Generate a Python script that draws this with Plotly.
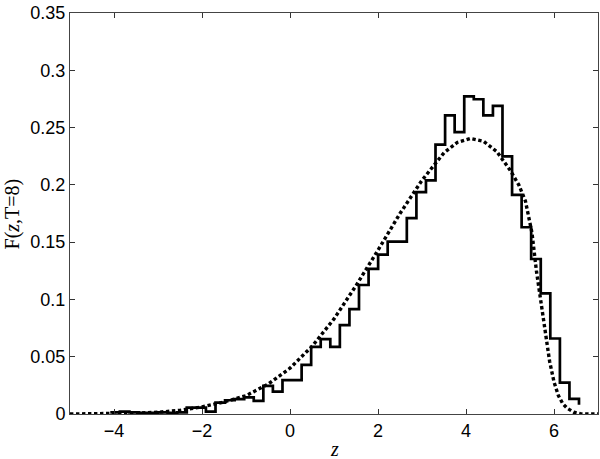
import plotly.graph_objects as go

# histogram (stairs): left edge of each bin and its height
bin_edges = [-4.084, -3.867, -3.649, -3.432, -3.215, -2.997, -2.780, -2.563,
             -2.346, -2.128, -1.911, -1.693, -1.476, -1.258, -1.041, -0.824,
             -0.606, -0.389, -0.171, 0.046, 0.264, 0.481, 0.698, 0.916,
             1.133, 1.351, 1.568, 1.786, 2.003, 2.220, 2.438, 2.655,
             2.873, 3.090, 3.307, 3.525, 3.742, 3.960, 4.177, 4.394,
             4.612, 4.829, 5.047, 5.264, 5.481, 5.699, 5.916, 6.134,
             6.351, 6.568]
bin_height = [0.0015, 0.002, 0.0015, 0.001, 0.001, 0.0015, 0.001, 0.0015,
              0.0055, 0.0055, 0.002, 0.010, 0.012, 0.013, 0.0145, 0.0115,
              0.0245, 0.0195, 0.0295, 0.0295, 0.0429, 0.0586, 0.0653, 0.0586,
              0.0776, 0.0916, 0.1126, 0.1266, 0.1391, 0.1505, 0.1505, 0.1709,
              0.1936, 0.2039, 0.2351, 0.2607, 0.2461, 0.2773, 0.2747, 0.2607,
              0.2689, 0.2249, 0.1913, 0.1630, 0.1353, 0.1053, 0.0659, 0.0274,
              0.0132, 0.008]

# theoretical curve (dotted)
curve_z = [-5, -4.5, -4, -3.5, -3, -2.5, -2, -1.5, -1, -0.5, 0, 0.5, 1, 1.5,
           2, 2.5, 3, 3.5, 3.8, 4.1, 4.4, 4.7, 5.0, 5.2, 5.35, 5.5, 5.6, 5.7,
           5.8, 5.9, 6.0, 6.1, 6.2, 6.3, 6.45, 6.6, 6.8, 7]
curve_f = [0, 0.0001, 0.0003, 0.0008, 0.0015, 0.0032, 0.0062, 0.0105, 0.016,
           0.026, 0.040, 0.059, 0.083, 0.112, 0.143, 0.175, 0.204, 0.228,
           0.237, 0.2405, 0.238, 0.229, 0.213, 0.200, 0.186, 0.158, 0.125,
           0.097, 0.073, 0.046, 0.028, 0.016, 0.009, 0.005, 0.0015, 0.0002,
           0, 0]

x_ticks = [-4, -2, 0, 2, 4, 6]
x_tick_text = ["\u22124", "\u22122", "0", "2", "4", "6"]
y_ticks = [0, 0.05, 0.1, 0.15, 0.2, 0.25, 0.3, 0.35]
y_tick_text = ["0", "0.05", "0.1", "0.15", "0.2", "0.25", "0.3", "0.35"]

fig = go.Figure()
fig.add_trace(go.Scatter(
    x=curve_z, y=curve_f, mode="lines",
    line=dict(color="black", width=3.4, dash="3.4px,2.6px"),
))
fig.add_trace(go.Scatter(
    x=bin_edges, y=bin_height, mode="lines", line_shape="hv",
    line=dict(color="black", width=2.7),
))

axis_font = dict(family="Liberation Sans, Arial, sans-serif", size=18, color="black")
title_font = dict(family="Liberation Serif, Times New Roman, serif", size=20, color="black")

common = dict(
    ticks="inside", ticklen=5, tickcolor="#333", mirror="allticks",
    showline=True, linecolor="#444", linewidth=1,
    showgrid=False, zeroline=False, tickfont=axis_font, automargin=False,
    ticklabeloverflow="allow",
)

fig.update_layout(
    width=600, height=459,
    margin=dict(l=70, r=2, t=13, b=45),
    paper_bgcolor="white", plot_bgcolor="white",
    showlegend=False,
    xaxis=dict(range=[-5, 7], tickvals=x_ticks, ticktext=x_tick_text, **common),
    yaxis=dict(range=[0, 0.35], tickvals=y_ticks, ticktext=y_tick_text, **common),
)

# axis titles placed as annotations so the positions match the original
fig.add_annotation(
    text="<i>z</i>", xref="paper", yref="paper", x=0.5, y=-0.088,
    showarrow=False, font=title_font, xanchor="center", yanchor="middle",
)
fig.add_annotation(
    text="F(<i>z</i>,T=8)", xref="paper", yref="paper", x=-0.108, y=0.5,
    showarrow=False, font=title_font, textangle=-90,
    xanchor="center", yanchor="middle",
)

# drop the default 8px body margin so the figure fills the window exactly
fig.write_html(
    "out.html",
    config={"displayModeBar": False},
    post_script="document.body.style.margin='0px';",
)
